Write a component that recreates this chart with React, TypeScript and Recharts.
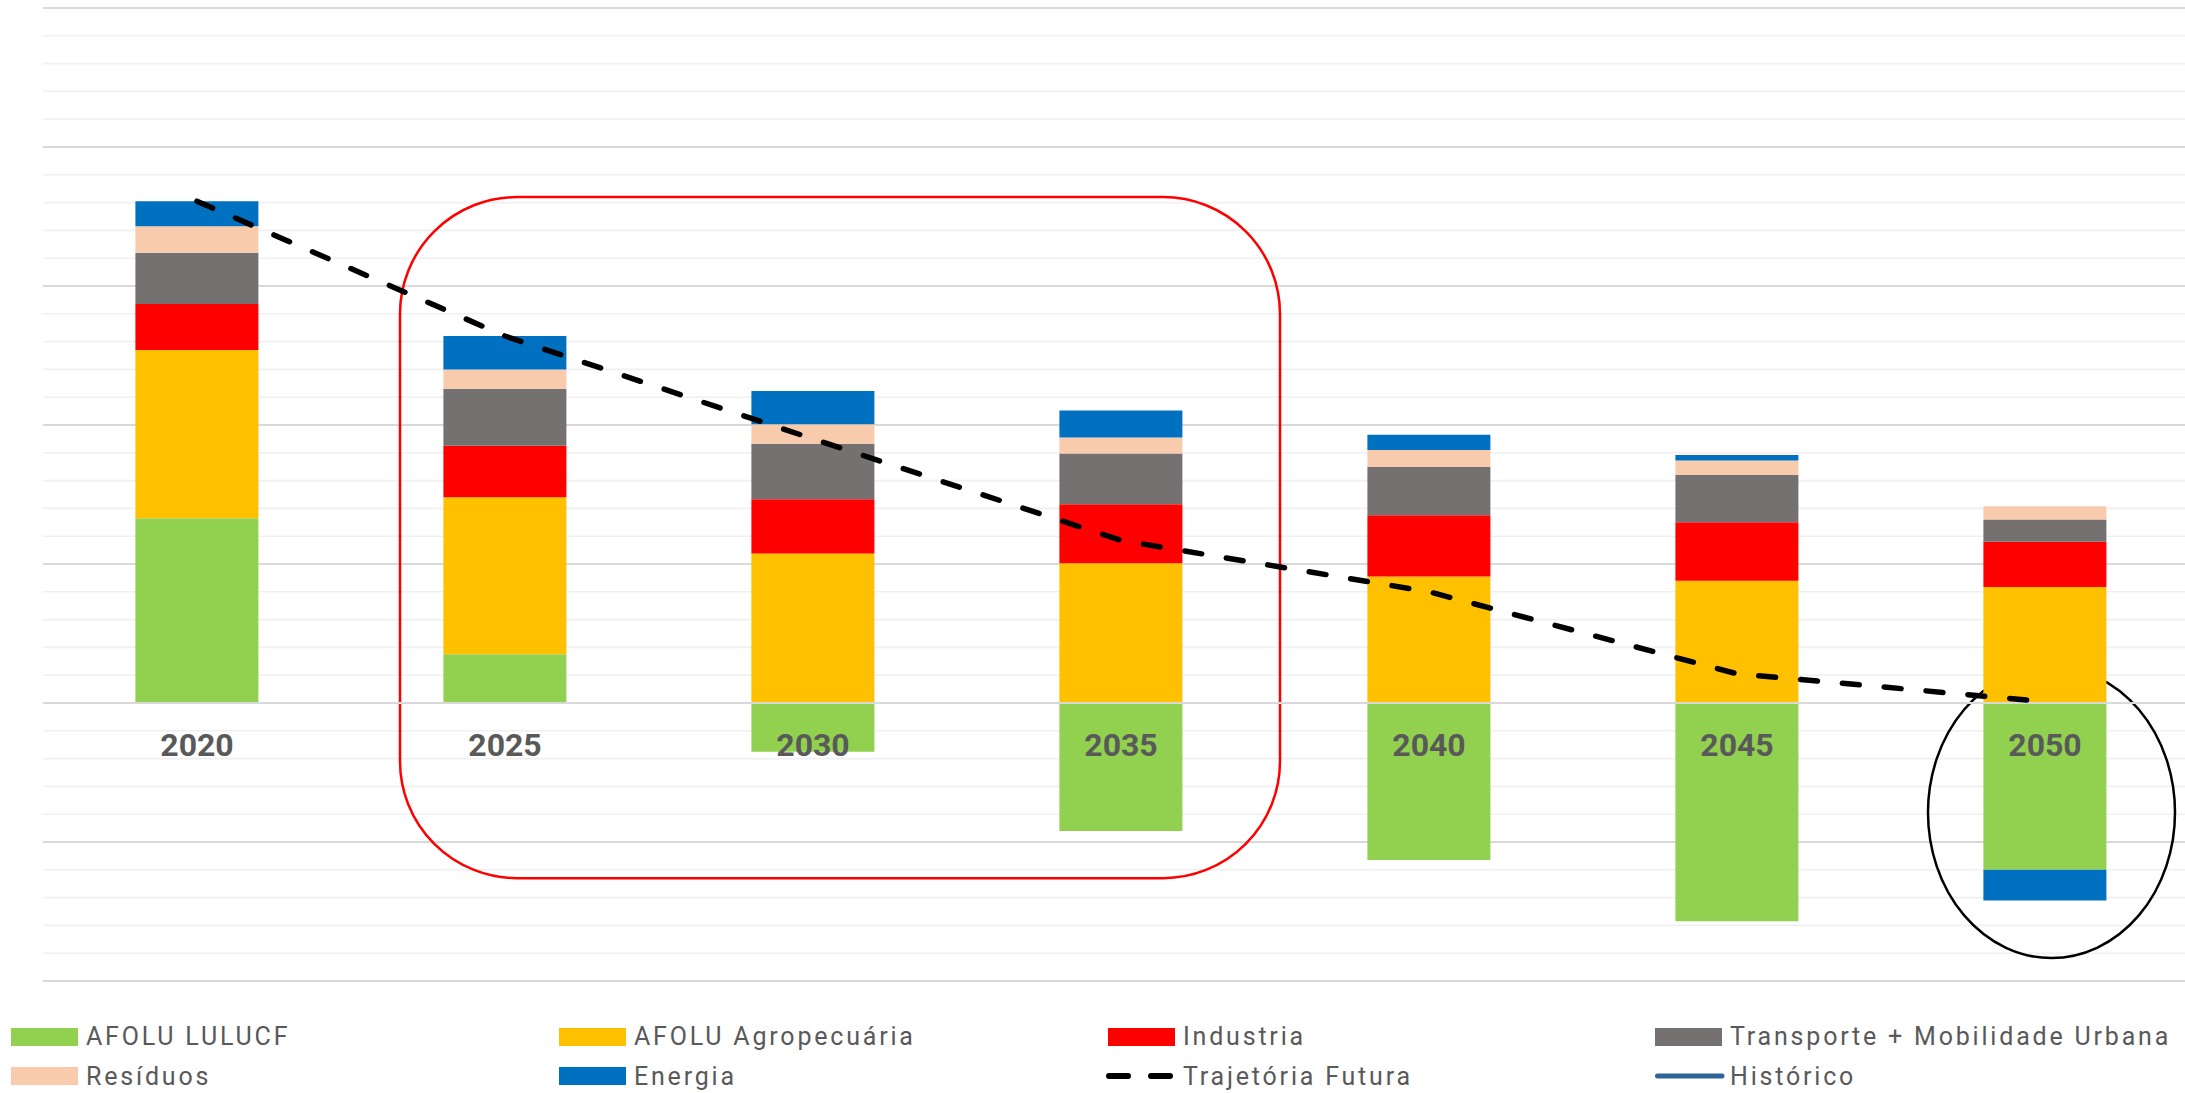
import React from 'react';
import {
  ComposedChart,
  Bar,
  Line,
  XAxis,
  YAxis,
  CartesianGrid,
  ReferenceLine,
  ReferenceArea,
  LabelList,
} from 'recharts';

// ---- data ----
const years = ['2020', '2025', '2030', '2035', '2040', '2045', '2050'];
const afoluLulucf = [133, 35, -35, -92, -113, -157, -120];
const afoluAgro = [121, 113, 107.5, 100.5, 91, 88, 83.5];
const industria = [33, 37, 39, 42.5, 44, 42, 32.5];
const transporte = [37, 41, 40, 36.5, 35, 34, 16];
const residuos = [19, 14, 14, 11.5, 12, 10.5, 9.5];
const energia = [18, 24, 24, 19.5, 11, 4, -22];
const trajetoria = [361, 264, 190, 117, 80, 21, 1];
const labelBase = [0, 0, 0, 0, 0, 0, 0];

const majorGrid = [-200, -100, 0, 100, 200, 300, 400, 500];
const minorGrid = [
  -180, -160, -140, -120, -80, -60, -40, -20, 20, 40, 60, 80, 120, 140, 160, 180,
  220, 240, 260, 280, 320, 340, 360, 380, 420, 440, 460, 480,
];

const COLORS = {
  lulucf: '#92d050',
  agro: '#ffc000',
  industria: '#ff0000',
  transporte: '#767171',
  residuos: '#f8cbad',
  energia: '#0070c0',
  historico: '#2e6597',
};

const legendItems = [
  { name: 'AFOLU LULUCF', color: COLORS.lulucf, kind: 'box' },
  { name: 'AFOLU Agropecuária', color: COLORS.agro, kind: 'box' },
  { name: 'Industria', color: COLORS.industria, kind: 'box' },
  { name: 'Transporte + Mobilidade Urbana', color: COLORS.transporte, kind: 'box' },
  { name: 'Resíduos', color: COLORS.residuos, kind: 'box' },
  { name: 'Energia', color: COLORS.energia, kind: 'box' },
  { name: 'Trajetória Futura', color: '#000000', kind: 'dash' },
  { name: 'Histórico', color: COLORS.historico, kind: 'line' },
];

const data = years.map((year, i) => ({
  year,
  lulucf: afoluLulucf[i],
  agro: afoluAgro[i],
  industria: industria[i],
  transporte: transporte[i],
  residuos: residuos[i],
  energia: energia[i],
  trajetoria: trajetoria[i],
  base: labelBase[i],
}));

const YearLabel = (props: any) => {
  const { x, y, value } = props;
  return (
    <text
      x={x}
      y={y + 42}
      textAnchor="middle"
      dominantBaseline="central"
      fontFamily="Roboto, sans-serif"
      fontWeight={700}
      fontSize={32}
      fill="#595959"
    >
      {value}
    </text>
  );
};

const RedBox = (props: any) => {
  const { x, y, width, height } = props;
  return (
    <rect
      x={x + 49}
      y={y}
      width={width - 44}
      height={height}
      rx={117}
      ry={117}
      fill="none"
      stroke="#ff0000"
      strokeWidth={2.5}
    />
  );
};

const BlackEllipse = (props: any) => {
  const { x, y, width, height } = props;
  return (
    <ellipse
      cx={x + 160.5}
      cy={y + height / 2}
      rx={123.5}
      ry={height / 2}
      fill="none"
      stroke="#000000"
      strokeWidth={2.5}
    />
  );
};

const LegendSwatch = ({ item }: { item: any }) => {
  if (item.kind === 'box') {
    return <div style={{ width: 67, height: 18, background: item.color, flex: '0 0 auto' }} />;
  }
  if (item.kind === 'dash') {
    return (
      <svg width={67} height={18} style={{ flex: '0 0 auto', overflow: 'visible' }}>
        <line x1={1} y1={9} x2={20} y2={9} stroke={item.color} strokeWidth={6} strokeLinecap="round" />
        <line x1={43} y1={9} x2={62} y2={9} stroke={item.color} strokeWidth={6} strokeLinecap="round" />
      </svg>
    );
  }
  return (
    <svg width={67} height={18} style={{ flex: '0 0 auto', overflow: 'visible' }}>
      <line x1={2.5} y1={9} x2={67} y2={9} stroke={item.color} strokeWidth={5} strokeLinecap="round" />
    </svg>
  );
};

export default function App() {
  return (
    <div style={{ position: 'relative', width: 2200, height: 1093, background: '#ffffff' }}>
      <style>{'body{margin:0;overflow:hidden;background:#fff}'}</style>
      <ComposedChart
        width={2200}
        height={1093}
        data={data}
        stackOffset="sign"
        barCategoryGap="30%"
        margin={{ top: 8, right: 1, left: 43, bottom: 112 }}
      >
        <CartesianGrid
          horizontal
          vertical={false}
          horizontalValues={minorGrid}
          stroke="#f0f0f0"
          strokeWidth={1.6}
        />
        <CartesianGrid
          horizontal
          vertical={false}
          horizontalValues={majorGrid}
          stroke="#d9d9d9"
          strokeWidth={2}
        />
        <XAxis dataKey="year" hide />
        <YAxis hide domain={[-200, 500]} ticks={majorGrid} allowDataOverflow />
        <Bar dataKey="lulucf" name="AFOLU LULUCF" stackId="a" fill={COLORS.lulucf} isAnimationActive={false} />
        <Bar dataKey="agro" name="AFOLU Agropecuária" stackId="a" fill={COLORS.agro} isAnimationActive={false} />
        <Bar dataKey="industria" name="Industria" stackId="a" fill={COLORS.industria} isAnimationActive={false} />
        <Bar dataKey="transporte" name="Transporte + Mobilidade Urbana" stackId="a" fill={COLORS.transporte} isAnimationActive={false} />
        <Bar dataKey="residuos" name="Resíduos" stackId="a" fill={COLORS.residuos} isAnimationActive={false} />
        <Bar dataKey="energia" name="Energia" stackId="a" fill={COLORS.energia} isAnimationActive={false} />
        <ReferenceLine y={0} stroke="#d9d9d9" strokeWidth={2} />
        <Line
          dataKey="base"
          stroke="none"
          dot={false}
          activeDot={false}
          legendType="none"
          isAnimationActive={false}
        >
          <LabelList dataKey="year" content={<YearLabel />} />
        </Line>
        <Line
          type="linear"
          dataKey="trajetoria"
          name="Trajetória Futura"
          stroke="#000000"
          strokeWidth={5.5}
          strokeDasharray="17 25"
          strokeLinecap="round"
          dot={false}
          activeDot={false}
          isAnimationActive={false}
        />
        <ReferenceArea x1="2025" x2="2035" y1={-126} y2={364} shape={<RedBox />} ifOverflow="visible" />
        <ReferenceArea x1="2050" x2="2050" y1={-183.5} y2={26} shape={<BlackEllipse />} ifOverflow="visible" />
      </ComposedChart>
      <div
        style={{
          position: 'absolute',
          left: 11,
          top: 1017,
          display: 'grid',
          gridTemplateColumns: '548px 549px 547px 530px',
          gridAutoRows: '39.5px',
          fontFamily: 'Roboto, sans-serif',
          fontSize: 25,
          letterSpacing: '2.8px',
          color: '#595959',
        }}
      >
        {legendItems.map((item) => (
          <div key={item.name} style={{ display: 'flex', alignItems: 'center', whiteSpace: 'nowrap' }}>
            <LegendSwatch item={item} />
            <span style={{ marginLeft: 8 }}>{item.name}</span>
          </div>
        ))}
      </div>
    </div>
  );
}
